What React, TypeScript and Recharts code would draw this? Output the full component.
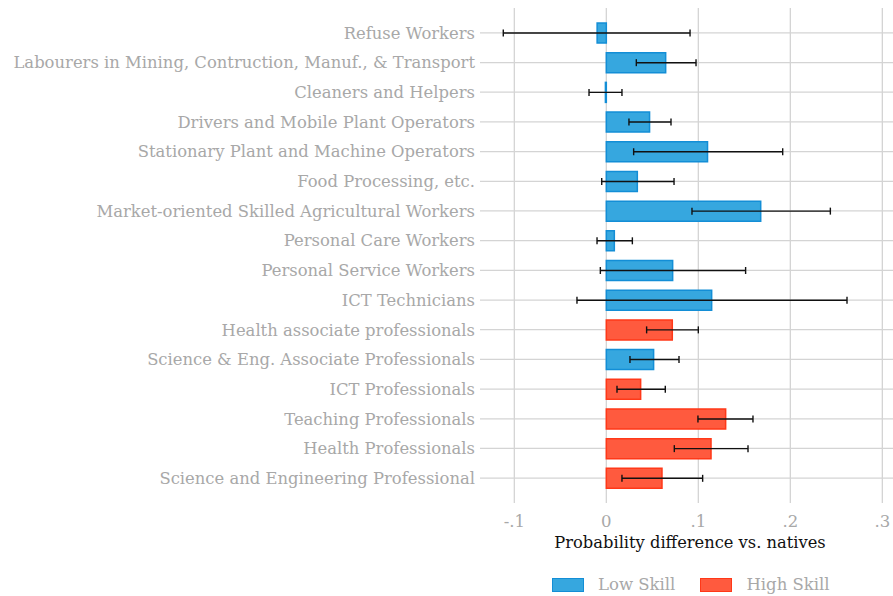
import React from "react";
import {
  BarChart,
  Bar,
  Cell,
  XAxis,
  YAxis,
  CartesianGrid,
  ErrorBar,
  Legend,
} from "recharts";

// Occupations, top to bottom
const occupations = [
  "Refuse Workers",
  "Labourers in Mining, Contruction, Manuf., & Transport",
  "Cleaners and Helpers",
  "Drivers and Mobile Plant Operators",
  "Stationary Plant and Machine Operators",
  "Food Processing, etc.",
  "Market-oriented Skilled Agricultural  Workers",
  "Personal Care Workers",
  "Personal Service Workers",
  "ICT Technicians",
  "Health associate professionals",
  "Science & Eng. Associate Professionals",
  "ICT Professionals",
  "Teaching Professionals",
  "Health Professionals",
  "Science and Engineering Professional",
];

const estimates = [
  -0.010, 0.0645, -0.001, 0.047, 0.110, 0.0337, 0.1678, 0.0087,
  0.0721, 0.1145, 0.0717, 0.0514, 0.0373, 0.1297, 0.1138, 0.0605,
];
const ciLow = [
  -0.112, 0.0326, -0.0188, 0.0246, 0.0297, -0.005, 0.0931, -0.0101,
  -0.0065, -0.0319, 0.0438, 0.0257, 0.0116, 0.0996, 0.0739, 0.017,
];
const ciHigh = [
  0.091, 0.0975, 0.017, 0.0703, 0.1917, 0.0736, 0.2435, 0.0283,
  0.1514, 0.2616, 0.100, 0.079, 0.0641, 0.1594, 0.154, 0.1047,
];
const skill = [
  "low", "low", "low", "low", "low", "low", "low", "low",
  "low", "low", "high", "low", "high", "high", "high", "high",
];

const xTicks = [-0.1, 0, 0.1, 0.2, 0.3];
const xTickLabels = ["-.1", "0", ".1", ".2", ".3"];

const COLORS: Record<string, { fill: string; stroke: string }> = {
  low: { fill: "#36a7df", stroke: "#138ed6" },
  high: { fill: "#ff5a3e", stroke: "#ff3818" },
};
const LEGEND = [
  { key: "low", label: "Low Skill" },
  { key: "high", label: "High Skill" },
];

const FONT = "'DejaVu Serif', serif";
const GREY = "#a8a8a8";
const GRID = "#d4d4d4";

const rows = occupations.map((name, i) => ({
  name,
  value: estimates[i],
  err: [estimates[i] - ciLow[i], ciHigh[i] - estimates[i]],
  skill: skill[i],
}));

function SkillLegend() {
  return (
    <div style={{ display: "flex", alignItems: "center", marginLeft: 552, fontFamily: FONT, fontSize: 16.5, color: GREY }}>
      {LEGEND.map((l, i) => (
        <div key={l.key} style={{ display: "flex", alignItems: "center", marginRight: i === 0 ? 25 : 0 }}>
          <span
            style={{
              display: "inline-block",
              width: 30,
              height: 12,
              background: COLORS[l.key].fill,
              border: `1.5px solid ${COLORS[l.key].stroke}`,
              marginRight: 14,
            }}
          />
          <span>{l.label}</span>
        </div>
      ))}
    </div>
  );
}

export default function App() {
  return (
    <div style={{ width: 893, height: 596, overflow: "hidden", position: "relative" }}>
      <style>{`body{margin:0;overflow:hidden}`}</style>
      <BarChart
        width={905}
        height={596}
        data={rows}
        layout="vertical"
        margin={{ top: 8, right: 5, left: 0, bottom: 24 }}
        barSize={20}
      >
        <CartesianGrid
          stroke={GRID}
          strokeWidth={1.3}
          verticalValues={xTicks}
          horizontalValues={occupations}
        />
        <XAxis
          type="number"
          domain={[-0.1373, 0.3192]}
          ticks={xTicks}
          allowDataOverflow
          tickFormatter={(v: number) => xTickLabels[xTicks.indexOf(v)] ?? String(v)}
          axisLine={false}
          tickLine={false}
          tickMargin={6}
          height={50}
          tick={{ fill: GREY, fontSize: 16.5, fontFamily: FONT }}
          label={{
            value: "Probability difference vs. natives",
            position: "insideBottom",
            offset: 5,
            fill: "#111",
            fontSize: 16.3,
            fontFamily: FONT,
          }}
        />
        <YAxis
          type="category"
          dataKey="name"
          width={480}
          interval={0}
          axisLine={false}
          tickLine={false}
          tickSize={0}
          tickMargin={5}
          padding={{ top: 10, bottom: 10 }}
          tick={{ fill: GREY, fontSize: 16.4, fontFamily: FONT, style: { whiteSpace: "pre" } }}
        />
        <Legend
          verticalAlign="bottom"
          content={() => <SkillLegend />}
          wrapperStyle={{ left: 0, width: 905, bottom: 2 }}
        />
        <Bar dataKey="value" isAnimationActive={false} strokeWidth={1.5}>
          {rows.map((r, i) => (
            <Cell key={i} fill={COLORS[r.skill].fill} stroke={COLORS[r.skill].stroke} />
          ))}
          <ErrorBar dataKey="err" direction="x" width={3.5} stroke="#111" strokeWidth={1.4} isAnimationActive={false} />
        </Bar>
      </BarChart>
    </div>
  );
}
